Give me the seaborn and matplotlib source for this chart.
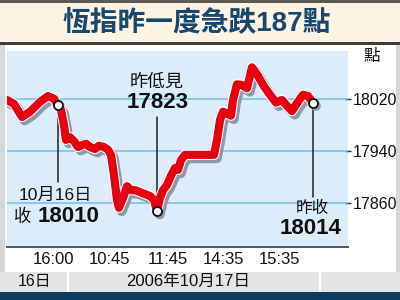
import numpy as np
import pandas as pd
import matplotlib
matplotlib.use("Agg")
import matplotlib.pyplot as plt
import matplotlib.patheffects as pe
from matplotlib.patches import Rectangle
import seaborn as sns

# ---- data (trading-minute index: 0 = 10:00 on 17 Oct; negatives = 16 Oct close) ----
minutes = [-58, -51, -43, -35, -25, -17, -11, -7, -4, -1, 1, 5, 9, 13, 17, 21, 25, 30,
           34, 39, 43, 46, 49, 52, 54, 58, 62, 66, 70, 75, 80, 85, 89, 92, 95, 98,
           102, 106, 110, 113, 116, 120, 130, 140, 149, 152, 155, 158, 162, 166, 168,
           172, 177, 182, 187, 193, 199, 205, 211, 217, 222, 227, 232, 238, 243, 248]
index_level = [18018, 18012, 17992, 18000, 18015, 18024, 18020, 18010, 18003, 17980,
               17957, 17961, 17955, 17946, 17949, 17951, 17946, 17943, 17948, 17946,
               17942, 17934, 17903, 17865, 17853, 17868, 17886, 17880, 17880, 17877,
               17874, 17871, 17865, 17848, 17868, 17880, 17888, 17902, 17914, 17911,
               17926, 17934, 17934, 17934, 17934, 17957, 17987, 18000, 17997, 17994,
               18018, 18042, 18041, 18036, 18068, 18055, 18039, 18026, 18014, 18018,
               18009, 18001, 18013, 18026, 18024, 18014]
xtick_pos = [-11, 45, 103, 159, 215]
xtick_labels = ["16:00", "10:45", "11:45", "14:35", "15:35"]
ytick_vals = [17860, 17940, 18020]

title = "恆指昨一度急跌187點"
prev_close_label = ("10月16日", "收", "18010")
low_label = ("昨低見", "17823")
close_label = ("昨收", "18014")
unit_label = "點"
date_labels = ("16日", "2006年10月17日")

df = pd.DataFrame({"t": minutes, "v": index_level})

sns.set_style("white")
plt.rcParams["font.family"] = ["Liberation Sans", "Noto Sans CJK TC", "DejaVu Sans"]

W, H = 400, 300
fig = plt.figure(figsize=(4, 3), dpi=100)
fig.patch.set_facecolor("white")


def rect(x0, y0, x1, y1, color):
    fig.patches.append(Rectangle((x0 / W, 1 - y1 / H), (x1 - x0) / W, (y1 - y0) / H,
                                 transform=fig.transFigure, facecolor=color,
                                 edgecolor="none", zorder=-5))


def ftext(x, y, s, **kw):
    fig.text(x / W, 1 - y / H, s, ha=kw.pop("ha", "center"), va=kw.pop("va", "center"),
             color=kw.pop("color", "#111111"), **kw)


# frame decorations
rect(0, 0, 400, 42, "#fdf3e4")
rect(0, 0, 400, 2.5, "#5a5a52")
rect(0, 41.5, 400, 44.5, "#3e3e36")
rect(0, 44.5, 5, 272, "#d3d7da")
rect(396, 44.5, 400, 272, "#d3d7da")
rect(0, 272, 400, 291.5, "#e4e4e4")
rect(67, 272, 69, 291.5, "white")
rect(318.5, 272, 320.5, 291.5, "white")
rect(0, 291.5, 400, 300, "#0f3b5c")

# axes
ax = fig.add_axes([7 / W, 1 - 247 / H, (348 - 7) / W, (247 - 51) / H])
ax.set_facecolor("#dcecf8")
ax.set_xlim(-58, 283)
ax.set_ylim(17793, 18093)

for v in ytick_vals:
    ax.axhline(v, color="#6cc0ef", lw=1.1, zorder=1)

sns.lineplot(data=df, x="t", y="v", ax=ax, color="#e60012", lw=5.9,
             solid_joinstyle="round", solid_capstyle="round", zorder=4,
             path_effects=[pe.SimpleLineShadow(offset=(2.0, -2.4), shadow_color="#8d99a6",
                                               alpha=1, rho=1, linewidth=7.2),
                           pe.Stroke(linewidth=7.4, foreground="white"),
                           pe.Normal()])

# key points
i_prev = minutes.index(-7)
i_low = int(np.argmin(index_level))
i_last = len(index_level) - 1
keys = df.iloc[[i_prev, i_low, i_last]]

# connector lines
ax.plot([minutes[i_prev]] * 2, [index_level[i_prev], 17893], color="#222222", lw=1.1, zorder=3)
ax.plot([minutes[i_low]] * 2, [17992, index_level[i_low]], color="#222222", lw=1.1, zorder=3)
ax.plot([minutes[i_last]] * 2, [index_level[i_last], 17870], color="#222222", lw=1.1, zorder=3)

sns.scatterplot(data=keys, x="t", y="v", ax=ax, s=42, color="white",
                edgecolor="#111111", linewidth=1.3, zorder=6)

ax.set_xticks(xtick_pos)
ax.set_xticklabels(xtick_labels, fontsize=12)
ax.set_yticks(ytick_vals)
ax.set_yticklabels([str(v) for v in ytick_vals], fontsize=11.5)
ax.yaxis.tick_right()
ax.tick_params(axis="x", direction="in", length=4, width=1.2, color="#333333", pad=3.5,
               labelcolor="#111111")
ax.tick_params(axis="y", direction="inout", length=4, width=1.0, color="#333333", pad=1.5,
               labelcolor="#111111")
ax.set_xlabel("")
ax.set_ylabel("")
for s in ["top", "left", "right"]:
    ax.spines[s].set_visible(False)
ax.spines["bottom"].set_color("#555555")
ax.spines["bottom"].set_linewidth(1.4)

# texts
ftext(197, 23.5, title, fontsize=20, fontweight="bold", color="#17476b")
ftext(372, 57, unit_label, fontsize=12)
ftext(55, 195, prev_close_label[0], fontsize=12.5)
ftext(22.5, 217, prev_close_label[1], fontsize=12.5)
ftext(38, 217, prev_close_label[2], fontsize=16, fontweight="bold", ha="left")
ftext(157, 82, low_label[0], fontsize=13)
ftext(158, 103, low_label[1], fontsize=16, fontweight="bold")
ftext(312, 208, close_label[0], fontsize=12)
ftext(311, 228, close_label[1], fontsize=16, fontweight="bold")
ftext(35, 281.5, date_labels[0], fontsize=11.5)
ftext(188, 281.5, date_labels[1], fontsize=12)

fig.savefig("out.png", dpi=100)
